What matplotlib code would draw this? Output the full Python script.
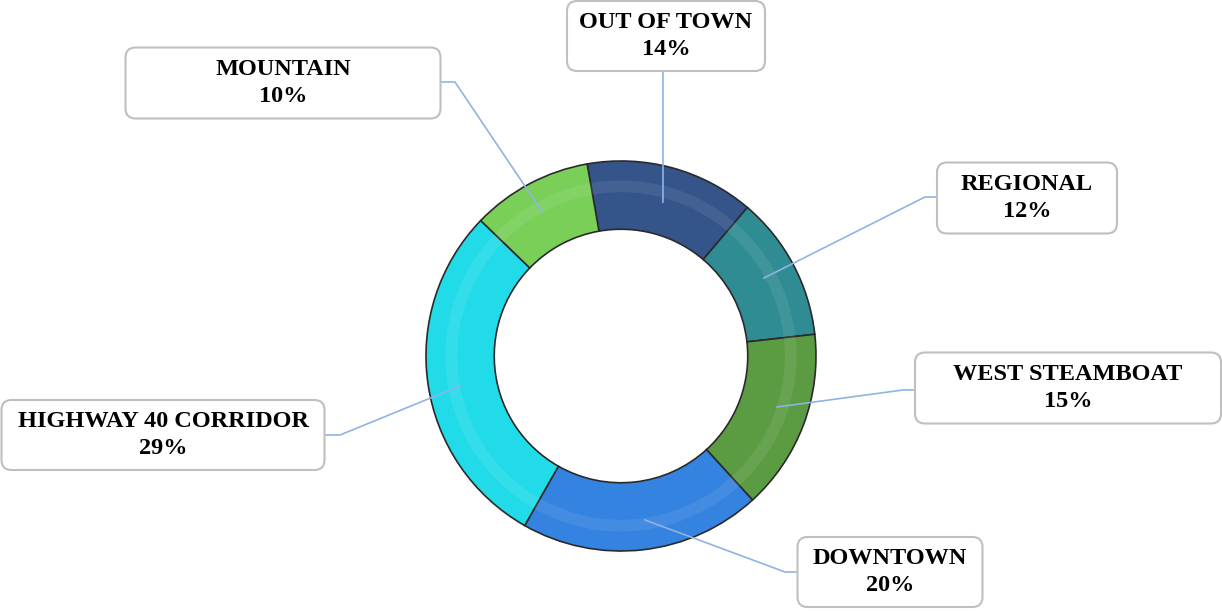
import matplotlib.pyplot as plt
from matplotlib.patches import FancyBboxPatch

# data
categories = ['OUT OF TOWN', 'REGIONAL', 'WEST STEAMBOAT', 'DOWNTOWN',
              'HIGHWAY 40 CORRIDOR', 'MOUNTAIN']
shares = [14, 12, 15, 20, 29, 10]
colors = ['#34548a', '#2f8c92', '#5b9c42', '#3483e0', '#22dbe8', '#79cf58']

# label boxes (center x, center y, width, height) in pixels, y from top
boxes = {
    'OUT OF TOWN': (666, 36, 198, 70),
    'REGIONAL': (1027, 198, 180, 71),
    'WEST STEAMBOAT': (1068, 388, 306, 71),
    'DOWNTOWN': (890, 572, 185, 70),
    'HIGHWAY 40 CORRIDOR': (163, 435, 323, 70),
    'MOUNTAIN': (283, 83, 315, 71),
}
# leader line points (pixels, y from top)
leaders = {
    'OUT OF TOWN': [(663, 202), (663, 72)],
    'REGIONAL': [(764, 278), (925, 197), (937, 197)],
    'WEST STEAMBOAT': [(777, 407), (903, 390), (915, 390)],
    'DOWNTOWN': [(645, 520), (785, 572), (797, 572)],
    'HIGHWAY 40 CORRIDOR': [(460, 386), (340, 435), (325, 435)],
    'MOUNTAIN': [(543, 213), (455, 82), (440, 82)],
}

W, H = 1222, 611
fig = plt.figure(figsize=(W / 100, H / 100), dpi=100)
ax = fig.add_axes([0, 0, 1, 1])

cx, cy = 621, H - 356
r_out = 195
ring = 0.35

ax.pie(shares, colors=colors, startangle=100, counterclock=False,
       center=(cx, cy), radius=r_out,
       wedgeprops=dict(width=r_out * ring, edgecolor='#2a2a2a', linewidth=1.2))

# soft highlight band to hint at the bevel
ax.pie(shares, colors=['white'] * len(shares), startangle=100, counterclock=False,
       center=(cx, cy), radius=r_out * 0.9,
       wedgeprops=dict(width=r_out * 0.06, linewidth=0, alpha=0.08))

ax.set_xlim(0, W)
ax.set_ylim(0, H)
ax.set_aspect('equal')
ax.axis('off')

for name, pct in zip(categories, shares):
    pts = leaders[name]
    ax.plot([p[0] for p in pts], [H - p[1] for p in pts],
            color='#8fb4e3', lw=1.2, zorder=3)

    bx, by, bw, bh = boxes[name]
    patch = FancyBboxPatch((bx - bw / 2 + 6, H - by - bh / 2 + 6), bw - 12, bh - 12,
                           boxstyle='round,pad=6,rounding_size=10',
                           facecolor='white', edgecolor='#bfbfbf', lw=1.5, zorder=4)
    ax.add_patch(patch)
    ax.text(bx, H - by, f'{name}\n{pct}%', ha='center', va='center',
            family='Liberation Serif', fontweight='bold', fontsize=17.5,
            linespacing=1.35, zorder=5)

fig.savefig('out.png', dpi=100)
